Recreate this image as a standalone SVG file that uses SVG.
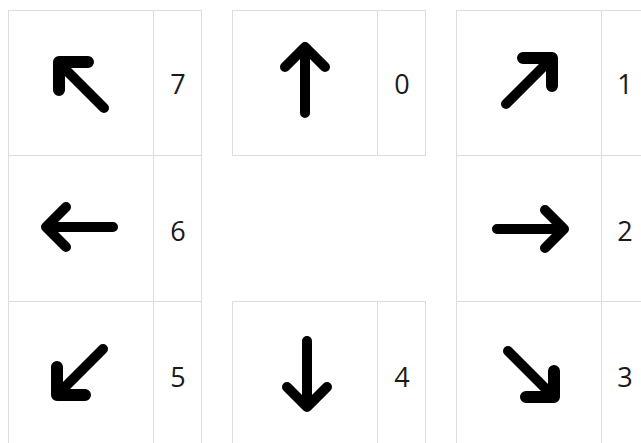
<svg xmlns="http://www.w3.org/2000/svg" width="641" height="443" viewBox="0 0 641 443">
  <style>
    .cell { fill: #ffffff; stroke: #dcdcdc; stroke-width: 1; }
    .arrow { fill: none; stroke: #000000; stroke-width: 10; stroke-linecap: round; stroke-linejoin: round; }
    .head { stroke-width: 12; }
    .num { font-family: "Open Sans", "Liberation Sans", sans-serif; font-size: 27px; fill: #1a1a1a; text-anchor: middle; }
  </style>
  <rect x="0" y="0" width="641" height="443" fill="#ffffff"/>

  <g id="node-7">
    <rect class="cell" x="8.5" y="10.5" width="145" height="145"/>
    <rect class="cell" x="153.5" y="10.5" width="48" height="145"/>
    <path class="arrow" d="M104,108 L59,63"/>
    <path class="arrow head" d="M88,62 L59,62 L59,90"/>
    <text class="num" x="178" y="94">7</text>
  </g>
  <g id="node-6">
    <rect class="cell" x="8.5" y="155.5" width="145" height="146"/>
    <rect class="cell" x="153.5" y="155.5" width="48" height="146"/>
    <path class="arrow" d="M113,227 L46,227 M66,207 L46,227 L66,247"/>
    <text class="num" x="178" y="240.5">6</text>
  </g>
  <g id="node-5">
    <rect class="cell" x="8.5" y="301.5" width="145" height="145"/>
    <rect class="cell" x="153.5" y="301.5" width="48" height="145"/>
    <path class="arrow" d="M103,349 L57,395"/>
    <path class="arrow head" d="M57,367 L57,395 L85,395"/>
    <text class="num" x="178" y="387">5</text>
  </g>

  <g id="node-0">
    <rect class="cell" x="232.5" y="10.5" width="145" height="145"/>
    <rect class="cell" x="377.5" y="10.5" width="48" height="145"/>
    <path class="arrow" d="M305,113 L305,47 M285,67 L305,47 L325,67"/>
    <text class="num" x="402" y="94">0</text>
  </g>
  <g id="node-4">
    <rect class="cell" x="232.5" y="301.5" width="145" height="145"/>
    <rect class="cell" x="377.5" y="301.5" width="48" height="145"/>
    <path class="arrow" d="M307,341 L307,407 M287,387 L307,407 L327,387"/>
    <text class="num" x="402" y="387">4</text>
  </g>

  <g id="node-1">
    <rect class="cell" x="456.5" y="10.5" width="145" height="145"/>
    <rect class="cell" x="601.5" y="10.5" width="48" height="145"/>
    <path class="arrow" d="M506,104 L552,58"/>
    <path class="arrow head" d="M523,58 L552,58 L552,86"/>
    <text class="num" x="625" y="94">1</text>
  </g>
  <g id="node-2">
    <rect class="cell" x="456.5" y="155.5" width="145" height="146"/>
    <rect class="cell" x="601.5" y="155.5" width="48" height="146"/>
    <path class="arrow" d="M497,229 L564,229 M545,210 L564,229 L545,248"/>
    <text class="num" x="625" y="240.5">2</text>
  </g>
  <g id="node-3">
    <rect class="cell" x="456.5" y="301.5" width="145" height="145"/>
    <rect class="cell" x="601.5" y="301.5" width="48" height="145"/>
    <path class="arrow" d="M508,351 L554,397"/>
    <path class="arrow head" d="M554,371 L554,397 L526,397"/>
    <text class="num" x="625" y="387">3</text>
  </g>

  <g id="connectors"></g>
</svg>
